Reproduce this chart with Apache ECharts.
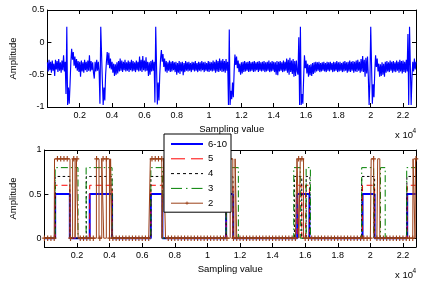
<!DOCTYPE html>
<html><head><meta charset="utf-8">
<script src="https://cdn.jsdelivr.net/npm/echarts@6/dist/echarts.min.js"></script>
<style>html,body{margin:0;padding:0;background:#fff}#c{width:428px;height:283px}</style>
</head><body><div id="c"></div>
<script>
// ---------- data ----------
const X_MAX = 22800;
const ECG_STEP = 50; // samples between stored ECG values
const ecgValues = [
 -0.31,-0.45,-0.27,-0.43,-0.30,-0.47,-0.28,-0.44,-0.33,-0.52,
 -0.27,-0.42,-0.29,-0.46,-0.26,-0.44,-0.31,-0.47,-0.28,-0.43,
 -0.20,-0.45,-0.30,-0.80, 0.24,-0.97,-0.70,-0.95,-0.65,-0.30,
 -0.10,-0.27,-0.15,-0.36,-0.22,-0.40,-0.26,-0.44,-0.29,-0.46,
 -0.30,-0.53,-0.28,-0.45,-0.31,-0.47,-0.27,-0.43,-0.30,-0.46,
 -0.28,-0.44,-0.20,-0.45,-0.29,-0.43,-0.31,-0.47,-0.56,-0.30,
 -0.45,-0.27,-0.44,-0.30,-0.46,-0.95, 0.24, 0.22,-0.60,-0.97,
 -0.70,-0.90,-0.50,-0.30,-0.15,-0.35,-0.16,-0.40,-0.25,-0.42,
 -0.30,-0.47,-0.33,-0.52,-0.34,-0.50,-0.31,-0.48,-0.29,-0.45,
 -0.25,-0.44,-0.28,-0.46,-0.30,-0.43,-0.27,-0.45,-0.31,-0.44,
 -0.28,-0.46,-0.30,-0.43,-0.27,-0.45,-0.29,-0.44,-0.31,-0.46,
 -0.28,-0.43,-0.30,-0.45,-0.22,-0.44,-0.27,-0.46,-0.21,-0.43,
 -0.28,-0.45,-0.23,-0.44,-0.30,-0.52,-0.31,-0.50,-0.29,-0.45,
 -0.27,-0.44,-0.30,-0.93, 0.24, 0.23,-0.96,-0.62,-0.90,-0.50,
 -0.25,-0.12,-0.30,-0.18,-0.38,-0.25,-0.45,-0.29,-0.47,-0.31,
 -0.44,-0.28,-0.46,-0.30,-0.45,-0.29,-0.43,-0.31,-0.46,-0.30,
 -0.50,-0.32,-0.47,-0.29,-0.49,-0.31,-0.45,-0.30,-0.51,-0.32,
 -0.46,-0.29,-0.44,-0.31,-0.45,-0.30,-0.44,-0.32,-0.46,-0.30,
 -0.43,-0.31,-0.45,-0.29,-0.44,-0.32,-0.46,-0.30,-0.44,-0.31,
 -0.45,-0.29,-0.43,-0.31,-0.46,-0.30,-0.44,-0.32,-0.45,-0.29,
 -0.46,-0.30,-0.44,-0.31,-0.45,-0.28,-0.44,-0.30,-0.47,-0.27,
 -0.45,-0.29,-0.46,-0.25,-0.44,-0.28,-0.46,-0.26,-0.45,-0.29,
 -0.47,-0.26,-0.44,-0.30,-0.97, 0.20,-0.97,-0.75,-0.88,-0.62,
 -0.85,-0.45,-0.19,-0.35,-0.22,-0.40,-0.28,-0.46,-0.33,-0.50,
 -0.31,-0.48,-0.30,-0.46,-0.29,-0.45,-0.31,-0.44,-0.30,-0.46,
 -0.29,-0.45,-0.31,-0.44,-0.30,-0.46,-0.29,-0.45,-0.31,-0.43,
 -0.30,-0.46,-0.29,-0.44,-0.31,-0.45,-0.30,-0.44,-0.29,-0.46,
 -0.31,-0.45,-0.30,-0.44,-0.28,-0.46,-0.31,-0.45,-0.29,-0.44,
 -0.30,-0.46,-0.31,-0.50,-0.29,-0.51,-0.30,-0.45,-0.29,-0.44,
 -0.31,-0.46,-0.28,-0.45,-0.30,-0.44,-0.25,-0.47,-0.27,-0.50,
 -0.24,-0.46,-0.28,-0.49,-0.26,-0.53,-0.29,-0.52,-0.28,-0.45,
 -0.50, 0.08,-0.97, 0.24,-0.97,-0.80,-0.95,-0.55,-0.20,-0.40,
 -0.28,-0.48,-0.33,-0.53,-0.35,-0.51,-0.34,-0.52,-0.32,-0.49,
 -0.31,-0.47,-0.30,-0.45,-0.31,-0.44,-0.30,-0.46,-0.32,-0.45,
 -0.31,-0.44,-0.30,-0.45,-0.32,-0.46,-0.30,-0.44,-0.31,-0.45,
 -0.30,-0.43,-0.32,-0.46,-0.30,-0.45,-0.31,-0.44,-0.29,-0.46,
 -0.31,-0.45,-0.30,-0.44,-0.32,-0.46,-0.30,-0.45,-0.29,-0.44,
 -0.31,-0.47,-0.30,-0.45,-0.28,-0.46,-0.30,-0.44,-0.29,-0.47,
 -0.30,-0.45,-0.28,-0.46,-0.27,-0.44,-0.30,-0.47,-0.26,-0.45,
 -0.21,-0.46,-0.27,-0.53,-0.24,-0.48,-0.22,-0.52,-0.97,-0.60,
  0.24, 0.22,-0.95,-0.65,-0.85,-0.45,-0.20,-0.38,-0.25,-0.45,
 -0.33,-0.53,-0.34,-0.52,-0.31,-0.50,-0.33,-0.53,-0.30,-0.47,
 -0.29,-0.45,-0.31,-0.46,-0.28,-0.44,-0.30,-0.47,-0.29,-0.45,
 -0.31,-0.46,-0.28,-0.44,-0.30,-0.47,-0.27,-0.45,-0.29,-0.48,
 -0.28,-0.46,-0.30,-0.47,-0.27,-0.45, 0.13,-0.97, 0.24, 0.22,
 -0.97,-0.55,-0.30,-0.45,-0.25,-0.42,-0.30
];
const xTickValues = [2000,4000,6000,8000,10000,12000,14000,16000,18000,20000,22000];
const topYTicks = [-1,-0.5,0,0.5];
const botYTicks = [0,0.5,1];
const seriesNames = ['6-10','5','4','3','2'];
const seriesLevels = [0.5,0.6,0.7,0.8,0.9];
// on-intervals [start, end] in samples
const pulses610 = [[660,1560],[2780,4150],[6530,7240],[11150,11570],[15510,16260],[19520,20260],[22260,22800]];
const pulses5   = [[660,1560],[2780,4150],[6530,7240],[11150,11570],[15510,15790],[16030,16260],[19520,20260],[22260,22800]];
const pulses4   = [[660,1560],[2570,4150],[6530,7240],[11150,11570],[15340,15790],[16060,16290],[19470,20260],[22240,22800]];
const pulses3   = [[660,2060],[2560,4150],[6530,7240],[11150,11900],[15300,15700],[16060,16320],[19470,20200],[20620,20910],[22230,22800]];
const pulses2   = [[620,1570],[1730,1880],[1960,2070],[3190,3350],[3520,3640],[3800,3990],[4060,4150],
                   [6500,7220],[7320,7430],[11400,11560],[11700,11800],[15500,15610],[15700,15900],
                   [20050,20220],[20450,20580],[22620,22740],[22770,22800]];
const MARKER_STEP = 200; // samples between plotted markers of series "2"

// ---------- helpers ----------
function stepData(pulses, level){
  const pts=[[0,0]];
  pulses.forEach(([a,b])=>{
    pts.push([a,0],[a,level]);
    if(b>=X_MAX){pts.push([X_MAX,level]);}
    else pts.push([b,level],[b,0]);
  });
  if(pts[pts.length-1][0]<X_MAX) pts.push([X_MAX,0]);
  return pts;
}
function markedStepData(pulses, level, step){
  const high = x => pulses.some(([a,b]) => x>=a && (b>=X_MAX ? x<=b : x<b));
  const items=[];
  for(let g=0; g<=X_MAX; g+=step) items.push({x:g, k:1});
  pulses.forEach(([a,b])=>{
    items.push({x:a, k:0, from:0, to:level});
    if(b<X_MAX) items.push({x:b, k:0, from:level, to:0});
  });
  items.sort((p,q)=>p.x-q.x || p.k-q.k);
  const out=[];
  items.forEach(it=>{
    if(it.k===0){
      out.push({value:[it.x,it.from],symbol:'none'});
      out.push({value:[it.x,it.to],symbol:'none'});
    } else {
      out.push({value:[it.x, high(it.x)?level:0]});
    }
  });
  return out;
}
const FONT='Liberation Sans, Arial, sans-serif';
const fmtX = v => xTickValues.indexOf(v)>=0 ? String(parseFloat((v/10000).toFixed(1))) : '';

function xAxes(gridIndex){
  const common = {type:'value', gridIndex, min:0, max:X_MAX, splitLine:{show:false},
    axisLine:{onZero:false, lineStyle:{color:'#000',width:1}},
    axisTick:{inside:true,length:4,customValues:xTickValues,lineStyle:{color:'#000'}}};
  return [
    Object.assign({}, common, {position:'bottom', name:'Sampling value', nameLocation:'middle', nameGap:17.5,
      nameTextStyle:{fontFamily:FONT,fontSize:9.5,color:'#000'},
      axisLabel:{customValues:xTickValues, formatter:fmtX, margin:4, fontFamily:FONT, fontSize:9, color:'#000'}}),
    Object.assign({}, common, {position:'top', axisLabel:{show:false}})
  ];
}
function yAxes(gridIndex, min, max, ticks, nameGap){
  const common = {type:'value', gridIndex, min, max, splitLine:{show:false},
    axisLine:{onZero:false, lineStyle:{color:'#000',width:1}},
    axisTick:{inside:true,length:4,customValues:ticks,lineStyle:{color:'#000'}}};
  return [
    Object.assign({}, common, {position:'left', name:'Amplitude', nameLocation:'middle', nameGap,
      nameTextStyle:{fontFamily:FONT,fontSize:9.5,color:'#000'},
      axisLabel:{customValues:ticks, formatter:v=>String(v), margin:3, fontFamily:FONT, fontSize:9, color:'#000'}}),
    Object.assign({}, common, {position:'right', axisLabel:{show:false}})
  ];
}

const colors = ['#0000ff','#ff0000','#000000','#008000','#9c4018'];
const dashes = ['solid',[6,4],[2.5,2.5],[7,3,1.5,3],'solid'];
const widths = [2,1,1,1,1];
const legendDashes = ['solid',[14,6],[3,3],[11,4,1.5,4],'solid'];
const pulseSets = [pulses610,pulses5,pulses4,pulses3,pulses2];
const plusPath = 'path://M1.5,0h1v1.5h1.5v1h-1.5v1.5h-1v-1.5h-1.5v-1h1.5z';

const series = [{
  type:'line', name:'ecg', xAxisIndex:0, yAxisIndex:0, symbol:'none',
  lineStyle:{color:'#0000ff',width:1.15}, itemStyle:{color:'#0000ff'},
  data: ecgValues.map((v,i)=>[i*ECG_STEP, v]), animation:false
}];
seriesNames.forEach((n,i)=>{
  const isMarked = (n==='2');
  series.push({
    type:'line', name:n, xAxisIndex:2, yAxisIndex:2,
    symbol: isMarked ? plusPath : 'none', symbolSize: isMarked ? [4.5,5.5] : 0,
    showSymbol: isMarked,
    lineStyle:{color:colors[i], width:widths[i], type:dashes[i]},
    itemStyle:{color:colors[i]},
    data: isMarked ? markedStepData(pulseSets[i], seriesLevels[i], MARKER_STEP) : stepData(pulseSets[i], seriesLevels[i]),
    animation:false
  });
});

const chart = echarts.init(document.getElementById('c'), null, {renderer:'canvas'});
chart.setOption({
  animation:false,
  backgroundColor:'#fff',
  grid:[{left:44,top:10,width:372,height:97},{left:44,top:150,width:372,height:97}],
  xAxis:[...xAxes(0), ...xAxes(1)],
  yAxis:[...yAxes(0,-1,0.5,topYTicks,19), ...yAxes(1,-0.1,1,botYTicks,15)],
  legend:{
    orient:'vertical', left:164, top:134, padding:[5,4,4,6], itemGap:4.8, itemWidth:32, itemHeight:4,
    backgroundColor:'#fff', borderColor:'#000', borderWidth:1, borderRadius:0,
    textStyle:{fontFamily:FONT, fontSize:9.5, lineHeight:10, color:'#000'},
    selectedMode:false,
    data: seriesNames.map((n,i)=>({name:n, lineStyle:{type:legendDashes[i], width:widths[i], color:colors[i]},
       itemStyle: n==='2' ? {color:colors[i]} : {color:colors[i], opacity:0}}))
  },
  graphic:[
    {type:'text', left:395, top:130.5, style:{text:'x 10', font:'9.5px '+FONT, fill:'#000'}},
    {type:'text', left:412.5, top:127.5, style:{text:'4', font:'6.5px '+FONT, fill:'#000'}},
    {type:'text', left:395, top:270.5, style:{text:'x 10', font:'9.5px '+FONT, fill:'#000'}},
    {type:'text', left:412.5, top:267.5, style:{text:'4', font:'6.5px '+FONT, fill:'#000'}}
  ],
  series
});
</script></body></html>
